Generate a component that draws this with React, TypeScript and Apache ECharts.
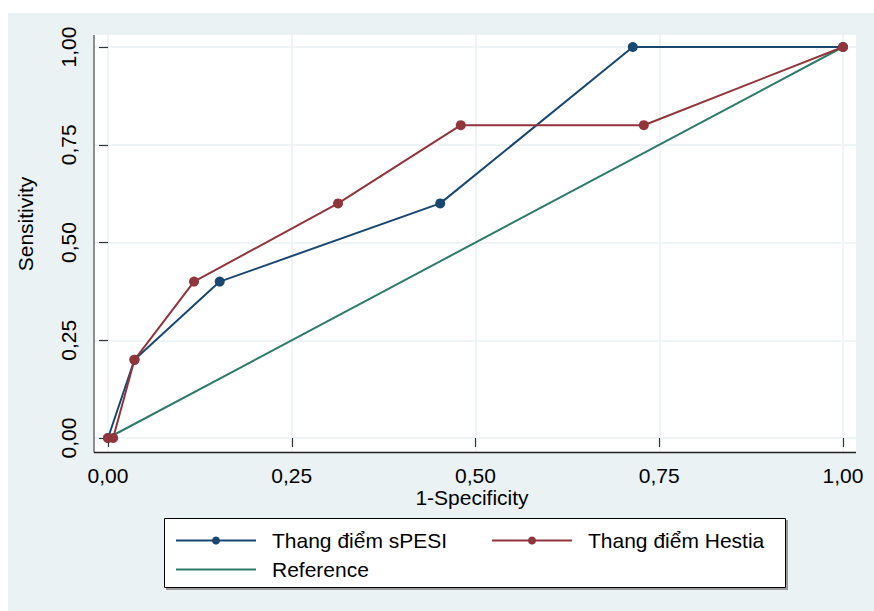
import React, { useEffect, useRef } from "react";
import * as echarts from "echarts";

const tickValues = [0, 0.25, 0.5, 0.75, 1];
const spesiX = [0, 0.036, 0.152, 0.452, 0.714, 1];
const spesiY = [0, 0.2, 0.4, 0.6, 1, 1];
const hestiaX = [0, 0.007, 0.036, 0.117, 0.313, 0.48, 0.729, 1];
const hestiaY = [0, 0, 0.2, 0.4, 0.6, 0.8, 0.8, 1];
const refX = [0, 1];
const refY = [0, 1];
const seriesNames = ["Thang điểm sPESI", "Thang điểm Hestia", "Reference"];

const FONT = "'Liberation Sans', Arial, 'DejaVu Sans', sans-serif";
const fmt = (v: number) => v.toFixed(2).replace(".", ",");
const pairs = (xs: number[], ys: number[]) => xs.map((x, i) => [x, ys[i]]);

export default function App() {
  const ref = useRef<HTMLDivElement>(null);
  useEffect(() => {
    if (!ref.current) return;
    const chart = echarts.init(ref.current, null, { renderer: "svg" });
    const xMin = -14 / 735;
    const xMax = xMin + 762 / 735;
    const yMin = -14 / 391;
    const yMax = yMin + 417 / 391;
    chart.setOption({
      animation: false,
      backgroundColor: "#ffffff",
      textStyle: { fontFamily: FONT },
      graphic: [
        { type: "rect", z: -10, shape: { x: 8, y: 13, width: 866, height: 598 }, style: { fill: "#eaf2f3" } },
        { type: "rect", z: -9, shape: { x: 94, y: 35, width: 762, height: 417 }, style: { fill: "#ffffff" } },
        { type: "line", z: 50, shape: { x1: 94, y1: 35, x2: 94, y2: 452.5 }, style: { stroke: "#6a6a6a", lineWidth: 1.5 } },
        { type: "line", z: 50, shape: { x1: 94, y1: 452.5, x2: 856, y2: 452.5 }, style: { stroke: "#222222", lineWidth: 1.5 } },
        {
          type: "text", x: 472, y: 497, z: 50,
          style: { text: "1-Specificity", fontSize: 21, fontFamily: FONT, fill: "#000", align: "center", verticalAlign: "middle" },
        },
        {
          type: "text", x: 25, y: 224, rotation: Math.PI / 2, z: 50,
          style: { text: "Sensitivity", fontSize: 21, fontFamily: FONT, fill: "#000", align: "center", verticalAlign: "middle" },
        },
        { type: "rect", z: -5, shape: { x: 166, y: 520, width: 622, height: 70 }, style: { fill: "#9a9a9a" } },
        { type: "rect", z: -4, shape: { x: 164.5, y: 518.5, width: 621, height: 69 }, style: { fill: "#ffffff", stroke: "#000000", lineWidth: 1 } },
      ],
      grid: { left: 94, top: 35, width: 762, height: 417, containLabel: false },
      xAxis: {
        type: "value",
        min: xMin,
        max: xMax,
        axisLine: { show: false },
        axisTick: { show: true, customValues: tickValues, length: 9, lineStyle: { color: "#333", width: 1.2 } },
        axisLabel: { customValues: tickValues, formatter: fmt, fontSize: 21, color: "#000", margin: 13, fontFamily: FONT },
        splitLine: { show: true, customValues: tickValues, lineStyle: { color: "#eaf2f3", width: 1.5 } },
      },
      yAxis: {
        type: "value",
        min: yMin,
        max: yMax,
        axisLine: { show: false },
        axisTick: { show: true, customValues: tickValues, length: 9, lineStyle: { color: "#333", width: 1.2 } },
        axisLabel: { customValues: tickValues, formatter: fmt, fontSize: 21, color: "#000", margin: 15, rotate: 90, fontFamily: FONT },
        splitLine: { show: true, customValues: tickValues, lineStyle: { color: "#eaf2f3", width: 1.5 } },
      },
      legend: {
        left: 175,
        top: 528,
        width: 620,
        padding: 0,
        itemGap: 4,
        itemWidth: 80,
        itemHeight: 10,
        textStyle: { fontSize: 21, lineHeight: 25, color: "#000", fontFamily: FONT, padding: [0, 0, 0, 11] },
        data: [
          { name: seriesNames[0], textStyle: { width: 215 } },
          { name: seriesNames[1] },
          { name: seriesNames[2], itemStyle: { color: "rgba(0,0,0,0)", borderWidth: 0, opacity: 0 } },
        ],
      },
      series: [
        {
          name: seriesNames[2],
          type: "line",
          data: pairs(refX, refY),
          showSymbol: false,
          symbol: "none",
          lineStyle: { color: "#2e7b6a", width: 2 },
          itemStyle: { color: "#2e7b6a" },
          z: 2,
        },
        {
          name: seriesNames[0],
          type: "line",
          data: pairs(spesiX, spesiY),
          symbol: "circle",
          symbolSize: 10,
          lineStyle: { color: "#1a476f", width: 2 },
          itemStyle: { color: "#1a476f" },
          z: 3,
        },
        {
          name: seriesNames[1],
          type: "line",
          data: pairs(hestiaX, hestiaY),
          symbol: "circle",
          symbolSize: 10,
          lineStyle: { color: "#90353b", width: 2 },
          itemStyle: { color: "#90353b" },
          z: 4,
        },
      ],
    });
    return () => chart.dispose();
  }, []);
  return (
    <div
      ref={ref}
      style={{ position: "absolute", left: 0, top: 0, width: 874, height: 611 }}
    />
  );
}
